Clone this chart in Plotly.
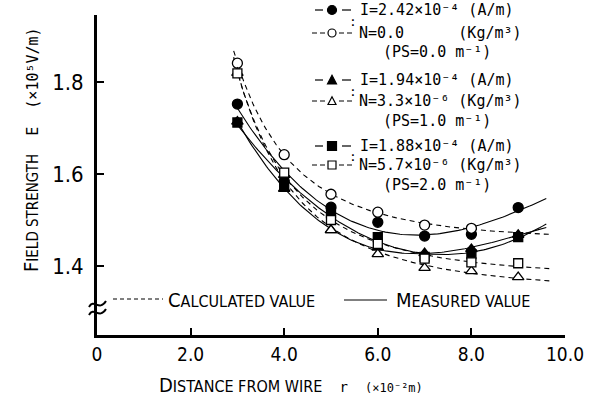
import numpy as np
import plotly.graph_objects as go

# ---------------- data ----------------
r = [3, 4, 5, 6, 7, 8, 9]
meas_I242 = [1.752, 1.585, 1.528, 1.495, 1.465, 1.469, 1.527]   # filled circle (measured)
calc_N00 = [1.841, 1.642, 1.556, 1.517, 1.489, 1.482, None]     # open circle (calculated)
meas_I194 = [1.714, 1.568, 1.478, 1.440, 1.428, 1.437, 1.468]   # filled triangle
calc_N33 = [1.820, 1.598, 1.478, 1.426, 1.396, 1.389, 1.376]    # open triangle
meas_I188 = [1.712, 1.576, 1.515, 1.463, 1.420, 1.426, 1.463]   # filled square
calc_N57 = [1.819, 1.603, 1.500, 1.448, 1.416, 1.408, 1.406]    # open square

x_ticks = [0, 2, 4, 6, 8, 10]
x_ticktext = ["0", "2.0", "4.0", "6.0", "8.0", "10.0"]
y_ticks = [1.4, 1.6, 1.8]
y_ticktext = ["1.4", "1.6", "1.8"]

legend_groups = [
    ("I=2.42×10⁻⁴ (A/m)", "N=0.0\u00a0\u00a0\u00a0\u00a0\u00a0\u00a0(Kg/m³)", "(PS=0.0 m⁻¹)", "circle"),
    ("I=1.94×10⁻⁴ (A/m)", "N=3.3×10⁻⁶ (Kg/m³)", "(PS=1.0 m⁻¹)", "triangle-up"),
    ("I=1.88×10⁻⁴ (A/m)", "N=5.7×10⁻⁶ (Kg/m³)", "(PS=2.0 m⁻¹)", "square"),
]

# ---------------- layout helpers ----------------
W, H = 595, 410
L, R, T, B = 97, 30, 15, 75
PW, PH = W - L - R, H - T - B


def px(x):
    return (x - L) / PW


def py(y):
    return (H - B - y) / PH


MONO = "DejaVu Sans Mono"
SANS = "DejaVu Sans Condensed, DejaVu Sans"


def fit_meas(xs, ys):
    pts = [(a, b) for a, b in zip(xs, ys) if b is not None]
    xa = np.array([p[0] for p in pts], float)
    ya = np.array([p[1] for p in pts], float)
    c = np.polyfit(xa, ya, 3)
    xx = np.linspace(2.95, 9.6, 150)
    return xx, np.polyval(c, xx)


def fit_calc(xs, ys):
    pts = [(a, b) for a, b in zip(xs, ys) if b is not None]
    xa = np.array([p[0] for p in pts], float)
    ya = np.array([p[1] for p in pts], float)
    A = np.vstack([np.ones_like(xa), 1 / xa, 1 / xa ** 2]).T
    c, *_ = np.linalg.lstsq(A, ya, rcond=None)
    xx = np.linspace(2.92, 9.7, 150)
    return xx, c[0] + c[1] / xx + c[2] / xx ** 2


fig = go.Figure()

series = [
    (meas_I242, "circle", True),
    (meas_I194, "triangle-up", True),
    (meas_I188, "square", True),
    (calc_N00, "circle", False),
    (calc_N33, "triangle-up", False),
    (calc_N57, "square", False),
]

# curves
for ys, sym, filled in series:
    if filled:
        xx, yy = fit_meas(r, ys)
        fig.add_trace(go.Scatter(x=xx, y=yy, mode="lines", line=dict(color="black", width=1.1),
                                 hoverinfo="skip", showlegend=False))
    else:
        xx, yy = fit_calc(r, ys)
        fig.add_trace(go.Scatter(x=xx, y=yy, mode="lines",
                                 line=dict(color="black", width=1.1, dash="5px,4px"),
                                 hoverinfo="skip", showlegend=False))

# markers: filled first, then open
for ys, sym, filled in series:
    size = 10 if sym != "square" else 9
    fig.add_trace(go.Scatter(
        x=r, y=ys, mode="markers", showlegend=False,
        marker=dict(symbol=sym, size=size,
                    color="black" if filled else "white",
                    line=dict(color="black", width=1.3))))

shapes = []
annotations = []

# ---------------- legend block (top right) ----------------
rows_y = [(10, 33, 52, 22), (80, 101, 121, 91), (146, 165, 185, 156)]


def add_marker_shape(kind, filled, cx, cy, s):
    fill = "black" if filled else "white"
    ln = dict(color="black", width=1.2)
    if kind == "circle":
        shapes.append(dict(type="circle", xref="paper", yref="paper",
                           x0=px(cx - s / 2), x1=px(cx + s / 2), y0=py(cy + s / 2), y1=py(cy - s / 2),
                           fillcolor=fill, line=ln))
    elif kind == "square":
        shapes.append(dict(type="rect", xref="paper", yref="paper",
                           x0=px(cx - s / 2), x1=px(cx + s / 2), y0=py(cy + s / 2), y1=py(cy - s / 2),
                           fillcolor=fill, line=ln))
    else:
        path = "M {:.5f} {:.5f} L {:.5f} {:.5f} L {:.5f} {:.5f} Z".format(
            px(cx - s / 2), py(cy + s / 2.3), px(cx + s / 2), py(cy + s / 2.3), px(cx), py(cy - s / 1.9))
        shapes.append(dict(type="path", xref="paper", yref="paper", path=path, fillcolor=fill, line=ln))


def seg(x0, x1, y, width=1.2, dash=None):
    d = dict(type="line", xref="paper", yref="paper", x0=px(x0), x1=px(x1), y0=py(y), y1=py(y),
             line=dict(color="black", width=width))
    if dash:
        d["line"]["dash"] = dash
    shapes.append(d)


for (t1, t2, t3, kind), (y1, y2, y3, yc) in zip(legend_groups, rows_y):
    # filled sample
    seg(315, 323, y1)
    seg(342, 351, y1)
    add_marker_shape(kind, True, 332, y1, 9)
    # open sample
    for a, b in [(312, 317), (320, 325), (339, 344), (347, 352)]:
        seg(a, b, y2, width=1.0)
    add_marker_shape(kind, False, 332, y2, 8)
    for txt, x, y in [(t1, 358, y1), (t2, 357, y2), (t3, 381, y3)]:
        annotations.append(dict(text=txt, x=px(x), y=py(y), xref="paper", yref="paper",
                                xanchor="left", yanchor="middle", showarrow=False,
                                font=dict(family=MONO, size=15, color="black")))
    annotations.append(dict(text=":", x=px(353), y=py(yc), xref="paper", yref="paper",
                            xanchor="center", yanchor="middle", showarrow=False,
                            font=dict(family=MONO, size=13, color="black")))


def smallcaps(word_str, small=15):
    return word_str[0] + '<span style="font-size:%dpx">%s</span>' % (small, word_str[1:])


# ---------------- line-style legend (bottom) ----------------
seg(113, 163, 299, width=1.0, dash="4px,3px")
annotations.append(dict(text=smallcaps("CALCULATED VALUE", 16), x=px(166), y=py(300), xref="paper", yref="paper",
                        xanchor="left", yanchor="middle", showarrow=False,
                        font=dict(family=SANS, size=20, color="black")))
seg(344, 387, 300, width=1.0)
annotations.append(dict(text=smallcaps("MEASURED VALUE", 16), x=px(394), y=py(300), xref="paper", yref="paper",
                        xanchor="left", yanchor="middle", showarrow=False,
                        font=dict(family=SANS, size=20, color="black")))

# ---------------- axis titles ----------------
nb = "\u00a0"
xtitle = (smallcaps("DISTANCE FROM WIRE", 16) + nb * 3 +
          '<span style="font-family:%s;font-size:14px">r</span>' % MONO + nb * 3 +
          '<span style="font-family:%s;font-size:12px">(×10⁻²m)</span>' % MONO)
annotations.append(dict(text=xtitle, x=px(291), y=py(385), xref="paper", yref="paper",
                        xanchor="center", yanchor="middle", showarrow=False,
                        font=dict(family=SANS, size=20, color="black")))
ytitle = (smallcaps("FIELD STRENGTH", 15) +
          '<span style="font-family:%s;font-size:15px">%sE%s(×10⁵V/m)</span>' % (MONO, nb * 2, nb * 2))
annotations.append(dict(text=ytitle, x=px(31), y=py(150), xref="paper", yref="paper",
                        xanchor="center", yanchor="middle", showarrow=False, textangle=-90,
                        font=dict(family=SANS, size=20, color="black")))

# ---------------- axis break squiggle ----------------
for dy in (0, 8):
    path = "M {:.5f} {:.5f} C {:.5f} {:.5f} {:.5f} {:.5f} {:.5f} {:.5f}".format(
        px(89), py(307 + dy), px(94), py(298 + dy), px(99), py(312 + dy), px(106), py(301 + dy))
    shapes.append(dict(type="path", xref="paper", yref="paper", path=path,
                       line=dict(color="black", width=2)))

fig.update_layout(
    width=W, height=H,
    margin=dict(l=L, r=R, t=T, b=B, pad=0),
    paper_bgcolor="white", plot_bgcolor="white",
    showlegend=False,
    shapes=shapes, annotations=annotations,
    xaxis=dict(range=[0, 10], tickvals=x_ticks, ticktext=x_ticktext,
               showline=True, linecolor="black", linewidth=3, mirror=False,
               ticks="inside", ticklen=7, tickwidth=2, tickcolor="black",
               showgrid=False, zeroline=False,
               tickfont=dict(family=SANS, size=19, color="black")),
    yaxis=dict(range=[1.25, 1.9457], tickvals=y_ticks, ticktext=y_ticktext,
               showline=True, linecolor="black", linewidth=3, mirror=False,
               ticks="inside", ticklen=7, tickwidth=2, tickcolor="black",
               showgrid=False, zeroline=False, ticklabelstandoff=6,
               tickfont=dict(family=SANS, size=22, color="black")),
)

fig.write_html("out.html")
